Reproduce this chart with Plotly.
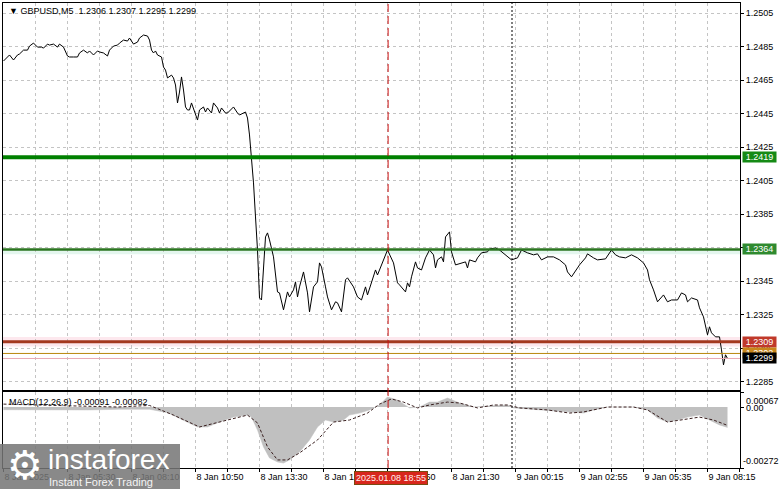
import plotly.graph_objects as go

# ---------------- data ----------------
symbol_title = "\u25bc GBPUSD,M5  1.2306 1.2307 1.2295 1.2299"
macd_title = "MACD(12,26,9) -0.00091 -0.00082"

price_bar = [0, 2, 3, 5, 7, 8, 10, 12, 13, 15, 17, 19, 20, 22, 23, 25, 27, 28, 30, 32, 33, 35, 37, 38, 40,
             42, 43, 45, 47, 48, 50, 52, 53, 55, 57, 58, 60, 62, 63, 65, 67, 68, 70, 72, 73, 74, 75, 76, 77,
             79, 80, 81, 82, 84, 85, 86, 87, 88, 89, 90, 91, 92, 93, 94, 96, 97, 98, 100, 101, 102, 104, 105,
             107, 108, 109, 111, 112, 115, 117, 118, 121, 122, 123, 125, 126, 127, 128, 129, 131, 132, 133,
             135, 137, 138, 140, 142, 143, 145, 146, 147, 148, 150, 152, 153, 155, 157, 158, 159, 161, 162,
             164, 166, 167, 169, 171, 172, 175, 177, 179, 181, 182, 184, 186, 187, 190, 192, 195, 197, 198,
             201, 202, 203, 204, 206, 207, 209, 211, 213, 215, 216, 217, 219, 220, 221, 223, 224, 226, 229,
             231, 232, 233, 236, 237, 239, 242, 243, 246, 248, 251, 254, 257, 259, 262, 265, 267, 269, 272,
             275, 278, 281, 282, 284, 287, 288, 291, 292, 295, 297, 301, 304, 306, 308, 311, 314, 317, 320,
             322, 323, 325, 327, 330, 332, 334, 337, 339, 341, 342, 344, 347, 348, 350, 351, 352, 353, 354,
             356, 358, 359, 360, 361, 362]
price_close = [1.24764, 1.24788, 1.24800, 1.24770, 1.24800, 1.24806, 1.24829, 1.24829, 1.24853, 1.24871,
               1.24847, 1.24847, 1.24841, 1.24865, 1.24859, 1.24865, 1.24847, 1.24865, 1.24847, 1.24794,
               1.24788, 1.24788, 1.24788, 1.24812, 1.24829, 1.24812, 1.24824, 1.24800, 1.24824, 1.24818,
               1.24812, 1.24794, 1.24829, 1.24853, 1.24859, 1.24871, 1.24889, 1.24883, 1.24901, 1.24865,
               1.24877, 1.24901, 1.24919, 1.24913, 1.24889, 1.24829, 1.24812, 1.24824, 1.24800, 1.24788,
               1.24728, 1.24710, 1.24663, 1.24680, 1.24663, 1.24621, 1.24514, 1.24579, 1.24669, 1.24591,
               1.24490, 1.24472, 1.24472, 1.24514, 1.24454, 1.24412, 1.24472, 1.24490, 1.24460, 1.24484,
               1.24454, 1.24514, 1.24484, 1.24454, 1.24484, 1.24454, 1.24454, 1.24490, 1.24454, 1.24442,
               1.24460, 1.24424, 1.24323, 1.24037, 1.23834, 1.23637, 1.23351, 1.23339, 1.23715, 1.23739,
               1.23697, 1.23596, 1.23387, 1.23381, 1.23280, 1.23387, 1.23357, 1.23399, 1.23447, 1.23357,
               1.23417, 1.23506, 1.23381, 1.23268, 1.23417, 1.23447, 1.23560, 1.23536, 1.23417, 1.23357,
               1.23280, 1.23328, 1.23322, 1.23268, 1.23459, 1.23471, 1.23417, 1.23357, 1.23339, 1.23417,
               1.23369, 1.23447, 1.23518, 1.23488, 1.23578, 1.23637, 1.23560, 1.23441, 1.23429, 1.23387,
               1.23441, 1.23417, 1.23477, 1.23566, 1.23530, 1.23518, 1.23590, 1.23637, 1.23608, 1.23530,
               1.23578, 1.23596, 1.23566, 1.23715, 1.23745, 1.23626, 1.23548, 1.23560, 1.23566, 1.23530,
               1.23578, 1.23566, 1.23590, 1.23620, 1.23626, 1.23643, 1.23649, 1.23637, 1.23608, 1.23578,
               1.23590, 1.23637, 1.23620, 1.23608, 1.23614, 1.23578, 1.23596, 1.23596, 1.23578, 1.23548,
               1.23506, 1.23477, 1.23530, 1.23548, 1.23590, 1.23614, 1.23590, 1.23578, 1.23584, 1.23637,
               1.23608, 1.23596, 1.23590, 1.23608, 1.23590, 1.23560, 1.23518, 1.23459, 1.23399, 1.23328,
               1.23369, 1.23328, 1.23339, 1.23339, 1.23381, 1.23369, 1.23328, 1.23351, 1.23339, 1.23292,
               1.23238, 1.23173, 1.23131, 1.23179, 1.23143, 1.23119, 1.23119, 1.23041, 1.22952, 1.23012,
               1.22990]

macd_bar = [0, 13, 28, 43, 58, 68, 73, 82, 90, 97, 102, 108, 115, 122, 124, 127, 130, 133, 137, 140, 143,
            148, 153, 157, 161, 165, 170, 173, 178, 183, 188, 192, 197, 203, 208, 213, 217, 222, 228, 235,
            242, 252, 255, 268, 283, 290, 295, 302, 315, 322, 327, 332, 337, 342, 348, 353, 358, 362]
macd_hist = [-0.00012, -0.00013, -0.00015, -0.00013, -0.00010, -0.00008, -0.00010, -0.00025, -0.00058,
             -0.00089, -0.00089, -0.00067, -0.00045, -0.00036, -0.00045, -0.00103, -0.00178, -0.00227,
             -0.00245, -0.00250, -0.00236, -0.00201, -0.00147, -0.00089, -0.00058, -0.00067, -0.00058,
             -0.00036, -0.00027, -0.00013, 0.00009, 0.00045, 0.00031, -0.00004, 0.0, 0.00022, 0.00022,
             0.00040, 0.00018, 0.0, 0.00004, 0.00009, -0.00004, -0.00013, -0.00022, -0.00027, -0.00013, 0.0,
             0.0, -0.00013, -0.00049, -0.00067, -0.00058, -0.00045, -0.00036, -0.00058, -0.00080, -0.00091]

signal_bar = [0, 32, 57, 73, 85, 98, 112, 122, 127, 132, 137, 142, 148, 157, 165, 173, 182, 188, 194, 200,
              207, 213, 222, 228, 237, 245, 252, 258, 272, 283, 290, 302, 315, 322, 332, 338, 348, 355, 362]
signal_val = [0.00013, 0.00004, 0.0, 0.00007, -0.00036, -0.00089, -0.00058, -0.00036, -0.00071, -0.00178,
              -0.00236, -0.00236, -0.00205, -0.00147, -0.00067, -0.00058, -0.00027, 0.00013, 0.00036,
              0.00022, -0.00004, 0.00009, 0.00022, 0.00018, -0.00004, 0.00009, 0.00009, -0.00004, -0.00013,
              -0.00027, -0.00022, 0.0, 0.0, -0.00013, -0.00067, -0.00058, -0.00045, -0.00058, -0.00082]

level_prices = [1.2419, 1.2364, 1.2309, 1.2302, 1.2299]
level_labels = ["1.2419", "1.2364", "1.2309", "1.2302", "1.2299"]
level_colors = ["#008000", "#2b7520", "#a3381f", "#b8860b", "#e8a8b4"]
level_widths = [4, 2.5, 3, 1, 1]
label_bg = ["#158a15", "#2f8a2f", "#c0392a", "#c8861a", "#000000"]

xtick_bars = [0, 32, 64, 96, 128, 160, 192, 224, 256, 288, 320, 352]
xtick_text = ["8 Jan 2025", "8 Jan 05:30", "8 Jan 08:10", "8 Jan 10:50", "8 Jan 13:30", "8 Jan 16:10",
              "8 Jan 18:50", "8 Jan 21:30", "9 Jan 00:15", "9 Jan 02:55", "9 Jan 05:35", "9 Jan 08:15"]
grid_step = 16
n_bars_view = [-0.25, 368.25]

price_range = [1.22802, 1.25110]
price_tick0 = 1.2285
price_dtick = 0.002
macd_range = [-0.00272, 0.00067]
macd_labels = ["0.00067", "0.00", "-0.00272"]

marker_bar = 192.3
marker_text = "2025.01.08 18:55"
day_sep_bar = 254.25

# ---------------- figure ----------------
FONT = "Liberation Sans, Arial, sans-serif"
W, H = 781, 489
ML, MR, MT, MB = 3, 41, 3, 21
PW, PH = W - ML - MR, H - MT - MB


def px_x(px):
    return (px - ML) / PW


def px_y(py):
    return (H - MB - py) / PH


fig = go.Figure()
fig.add_trace(go.Scatter(x=price_bar, y=price_close, mode="lines",
                         line=dict(color="black", width=1), xaxis="x", yaxis="y",
                         hoverinfo="skip"))
fig.add_trace(go.Scatter(x=macd_bar, y=macd_hist, mode="lines", fill="tozeroy",
                         fillcolor="#c0c0c0", line=dict(color="#c0c0c0", width=0.5),
                         xaxis="x2", yaxis="y2", hoverinfo="skip"))
fig.add_trace(go.Scatter(x=signal_bar, y=signal_val, mode="lines",
                         line=dict(color="#3a2020", width=1, dash="3px,2px"),
                         xaxis="x2", yaxis="y2", hoverinfo="skip"))

grid_vals = list(range(0, 369, grid_step))
tick_map = dict(zip(xtick_bars, xtick_text))
grid_text = [tick_map.get(v, "") for v in grid_vals]

shapes = []
# halo bands
shapes.append(dict(type="rect", xref="paper", yref="y", x0=0, x1=1, y0=1.23612, y1=1.23640,
                   fillcolor="#e4f6ee", line=dict(width=0), layer="below"))
shapes.append(dict(type="rect", xref="paper", yref="y", x0=0, x1=1, y0=1.23062, y1=1.23118,
                   fillcolor="#fde8ee", line=dict(width=0), layer="below"))
for p, c, w in zip(level_prices, level_colors, level_widths):
    shapes.append(dict(type="line", xref="paper", yref="y", x0=0, x1=1, y0=p, y1=p,
                       line=dict(color=c, width=w), layer="above"))
# vertical markers spanning both panes
shapes.append(dict(type="line", xref="x", yref="paper", x0=marker_bar, x1=marker_bar, y0=0, y1=1,
                   line=dict(color="#cc1010", width=1, dash="8px,4px"), layer="above"))
shapes.append(dict(type="line", xref="x", yref="paper", x0=day_sep_bar, x1=day_sep_bar, y0=0, y1=1,
                   line=dict(color="black", width=1, dash="2px,2px"), layer="above"))
# logo box
shapes.append(dict(type="rect", xref="paper", yref="paper", x0=px_x(0), x1=px_x(180),
                   y0=px_y(489), y1=px_y(444), fillcolor="rgba(118,118,118,0.86)",
                   line=dict(width=0), layer="above"))

annotations = []
annotations.append(dict(text=symbol_title, xref="paper", yref="paper", x=px_x(7), y=px_y(11),
                        xanchor="left", yanchor="middle", showarrow=False,
                        font=dict(family=FONT, size=9, color="black")))
annotations.append(dict(text=macd_title, xref="paper", yref="paper", x=px_x(7), y=px_y(402),
                        xanchor="left", yanchor="middle", showarrow=False,
                        font=dict(family=FONT, size=9, color="black")))
for p, t, bg in zip(level_prices, level_labels, label_bg):
    annotations.append(dict(text=t, xref="paper", yref="y", x=1, y=p, xanchor="left",
                            yanchor="middle", xshift=2, showarrow=False, width=33, height=10,
                            borderpad=0, bgcolor=bg, align="center",
                            font=dict(family=FONT, size=9, color="white")))
annotations.append(dict(text=macd_labels[0], xref="paper", yref="y2", x=1, y=macd_range[1],
                        xanchor="left", yanchor="top", xshift=4, yshift=-2, showarrow=False,
                        font=dict(family=FONT, size=9, color="black")))
annotations.append(dict(text=macd_labels[1], xref="paper", yref="y2", x=1, y=0.0,
                        xanchor="left", yanchor="middle", xshift=4, yshift=-1, showarrow=False,
                        font=dict(family=FONT, size=9, color="black")))
annotations.append(dict(text=macd_labels[2], xref="paper", yref="y2", x=1, y=macd_range[0],
                        xanchor="left", yanchor="bottom", xshift=1, yshift=0, showarrow=False,
                        font=dict(family=FONT, size=9, color="black")))
annotations.append(dict(text=marker_text, xref="x2", yref="paper", x=marker_bar, y=px_y(478),
                        xanchor="center", yanchor="middle", xshift=3, showarrow=False,
                        bgcolor="#d8261c", bordercolor="#7a4a10", borderwidth=1, borderpad=1,
                        font=dict(family=FONT, size=9, color="#fff0f0")))
# logo text
annotations.append(dict(text="\u2699", xref="paper", yref="paper", x=px_x(25), y=px_y(465),
                        xanchor="center", yanchor="middle", showarrow=False,
                        font=dict(family="DejaVu Sans", size=40, color="white")))
annotations.append(dict(text="instaforex", xref="paper", yref="paper", x=px_x(46), y=px_y(459),
                        xanchor="left", yanchor="middle", showarrow=False,
                        font=dict(family=FONT, size=28, color="white")))
annotations.append(dict(text="Instant Forex Trading", xref="paper", yref="paper", x=px_x(47),
                        y=px_y(482), xanchor="left", yanchor="middle", showarrow=False,
                        font=dict(family=FONT, size=11, color="#f4f4f4")))

grid_style = dict(showgrid=True, gridcolor="#c4c4c4", gridwidth=1, griddash="3px,3px")

fig.update_layout(
    width=W, height=H, margin=dict(l=ML, r=MR, t=MT, b=MB),
    paper_bgcolor="white", plot_bgcolor="white", showlegend=False,
    font=dict(family=FONT, size=9, color="black"),
    xaxis=dict(domain=[0, 1], range=n_bars_view, anchor="y", tickmode="array", tickvals=grid_vals,
               showticklabels=False, ticks="", zeroline=False, showline=True, mirror=True,
               linecolor="black", linewidth=1, **grid_style),
    xaxis2=dict(domain=[0, 1], range=n_bars_view, anchor="y2", matches="x", tickmode="array",
                tickvals=grid_vals, ticktext=grid_text, ticks="outside", ticklen=3, tickcolor="black",
                ticklabelposition="outside right", tickfont=dict(family=FONT, size=9, color="black"),
                zeroline=False, showline=True, mirror=True, linecolor="black", linewidth=1,
                **grid_style),
    yaxis=dict(domain=[px_y(390), 1], range=price_range, anchor="x", side="right", tickmode="linear",
               tick0=price_tick0, dtick=price_dtick, tickformat=".4f", ticks="outside", ticklen=3,
               tickcolor="black", tickfont=dict(family=FONT, size=9, color="black"), zeroline=False,
               showline=True, mirror=True, linecolor="black", linewidth=1, **grid_style),
    yaxis2=dict(domain=[0, px_y(392)], range=macd_range, anchor="x2", side="right", tickmode="array",
                tickvals=[macd_range[0], 0.0, macd_range[1]], showticklabels=False, ticks="outside",
                ticklen=3, tickcolor="black", showgrid=False, zeroline=False, showline=True,
                mirror=True, linecolor="black", linewidth=1),
    shapes=shapes, annotations=annotations,
)

fig.write_html("out.html", config={"displayModeBar": False, "staticPlot": True},
               post_script="document.body.style.margin='0';document.body.style.padding='0';")
